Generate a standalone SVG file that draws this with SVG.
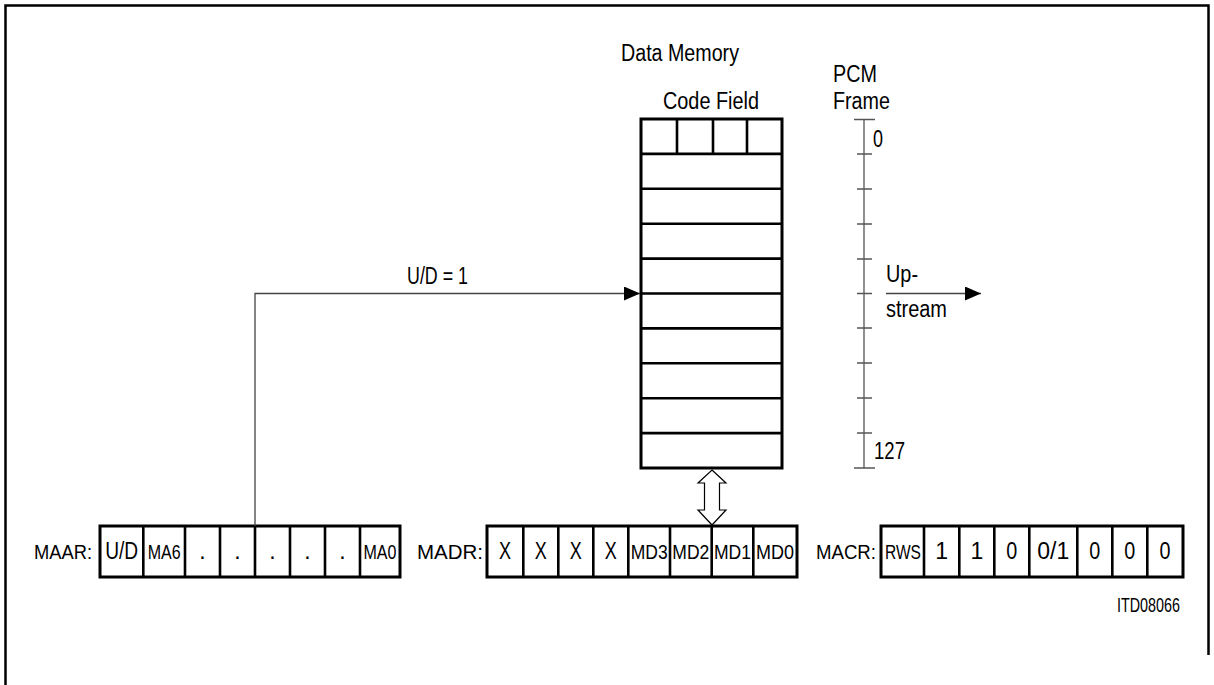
<svg xmlns="http://www.w3.org/2000/svg" width="1214" height="685" viewBox="0 0 1214 685">
  <defs>
    <marker id="ah" viewBox="0 0 16 14" refX="16" refY="7" markerWidth="16" markerHeight="14" markerUnits="userSpaceOnUse" orient="auto">
      <path d="M0 0 L16 7 L0 14 Z" fill="#000"/>
    </marker>
  </defs>
  <style>
    text { font-family: "Liberation Sans", Arial, sans-serif; font-size: 23px; fill: #000; }
    .c { text-anchor: middle; }
    .small { font-size: 20px; }
    .md { font-size: 19.5px; }
    .lbl { font-size: 21px; }
    .box { fill: #fff; stroke: #000; stroke-width: 3; }
    .div { stroke: #000; stroke-width: 2.6; fill: none; }
    .conn { stroke: #444; stroke-width: 1.3; fill: none; }
    .scale { stroke: #555; stroke-width: 1.3; fill: none; }
  </style>
  <rect width="1214" height="685" fill="#fff"/>

  <g id="frame">
    <path d="M5.5 685 V5.5 H1208.5 V655" fill="none" stroke="#000" stroke-width="2.5"/>
  </g>

  <g id="data-memory">
    <text x="621" y="61" textLength="118" lengthAdjust="spacingAndGlyphs">Data Memory</text>
    <text x="663" y="109" textLength="96" lengthAdjust="spacingAndGlyphs">Code Field</text>
    <rect class="box" x="641" y="119" width="141" height="349"/>
    <path class="div" d="M641 153.9 H782 M641 188.8 H782 M641 223.7 H782 M641 258.6 H782 M641 293.5 H782 M641 328.4 H782 M641 363.3 H782 M641 398.2 H782 M641 433.1 H782"/>
    <path class="div" d="M677 119 V153.9 M713 119 V153.9 M747 119 V153.9"/>
  </g>

  <g id="pcm-frame">
    <text x="833" y="82" textLength="44" lengthAdjust="spacingAndGlyphs">PCM</text>
    <text x="833" y="109" textLength="57" lengthAdjust="spacingAndGlyphs">Frame</text>
    <path class="scale" d="M864 119.5 V468 M854 119.5 H875 M854 468 H875 M857 154 H872 M857 189 H872 M857 224 H872 M857 259 H872 M857 293.5 H872 M857 328 H872 M857 363 H872 M857 398 H872 M857 433 H872"/>
    <text x="873" y="147" textLength="10" lengthAdjust="spacingAndGlyphs">0</text>
    <text x="874" y="459" textLength="31" lengthAdjust="spacingAndGlyphs">127</text>
  </g>

  <g id="upstream">
    <text x="886" y="282" textLength="32" lengthAdjust="spacingAndGlyphs">Up-</text>
    <text x="886" y="317" textLength="61" lengthAdjust="spacingAndGlyphs">stream</text>
  </g>

  <g id="maar">
    <text class="lbl" x="34" y="559" textLength="58" lengthAdjust="spacingAndGlyphs">MAAR:</text>
    <rect class="box" x="100" y="526" width="300" height="51"/>
    <path class="div" d="M143.3 526 V577 M185 526 V577 M220 526 V577 M255 526 V577 M290 526 V577 M325 526 V577 M360 526 V577"/>
    <text class="c" x="121.7" y="559" textLength="33" lengthAdjust="spacingAndGlyphs">U/D</text>
    <text class="c md" x="164.2" y="559" textLength="33" lengthAdjust="spacingAndGlyphs">MA6</text>
    <text class="c" x="202.5" y="559">.</text>
    <text class="c" x="237.5" y="559">.</text>
    <text class="c" x="272.5" y="559">.</text>
    <text class="c" x="307.5" y="559">.</text>
    <text class="c" x="342.5" y="559">.</text>
    <text class="c md" x="380" y="559" textLength="33" lengthAdjust="spacingAndGlyphs">MA0</text>
  </g>

  <g id="madr">
    <text class="lbl" x="417" y="559" textLength="66" lengthAdjust="spacingAndGlyphs">MADR:</text>
    <rect class="box" x="487" y="526" width="310" height="51"/>
    <path class="div" d="M523.3 526 V577 M558.3 526 V577 M593.3 526 V577 M628.3 526 V577 M670 526 V577 M711.7 526 V577 M753.3 526 V577"/>
    <text class="c" x="505" y="559" textLength="12" lengthAdjust="spacingAndGlyphs">X</text>
    <text class="c" x="540.8" y="559" textLength="12" lengthAdjust="spacingAndGlyphs">X</text>
    <text class="c" x="575.8" y="559" textLength="12" lengthAdjust="spacingAndGlyphs">X</text>
    <text class="c" x="610.8" y="559" textLength="12" lengthAdjust="spacingAndGlyphs">X</text>
    <text class="c md" x="649.2" y="559" textLength="37" lengthAdjust="spacingAndGlyphs">MD3</text>
    <text class="c md" x="690.8" y="559" textLength="37" lengthAdjust="spacingAndGlyphs">MD2</text>
    <text class="c md" x="732.5" y="559" textLength="37" lengthAdjust="spacingAndGlyphs">MD1</text>
    <text class="c md" x="775" y="559" textLength="38" lengthAdjust="spacingAndGlyphs">MD0</text>
  </g>

  <g id="macr">
    <text class="md" x="816" y="559" textLength="60" lengthAdjust="spacingAndGlyphs">MACR:</text>
    <rect class="box" x="881" y="526" width="302" height="51"/>
    <path class="div" d="M924 526 V577 M959.3 526 V577 M994.3 526 V577 M1029.3 526 V577 M1077.3 526 V577 M1112.3 526 V577 M1147.3 526 V577"/>
    <text class="c md" x="903" y="559" textLength="36" lengthAdjust="spacingAndGlyphs">RWS</text>
    <text class="c" x="941.7" y="559">1</text>
    <text class="c" x="976.8" y="559">1</text>
    <text class="c" x="1011.8" y="559" textLength="11" lengthAdjust="spacingAndGlyphs">0</text>
    <text class="c" x="1053.3" y="559" textLength="32" lengthAdjust="spacingAndGlyphs">0/1</text>
    <text class="c" x="1094.8" y="559" textLength="11" lengthAdjust="spacingAndGlyphs">0</text>
    <text class="c" x="1129.8" y="559" textLength="11" lengthAdjust="spacingAndGlyphs">0</text>
    <text class="c" x="1165" y="559" textLength="11" lengthAdjust="spacingAndGlyphs">0</text>
  </g>

  <g id="figure-id">
    <text class="small" x="1117" y="612" textLength="63" lengthAdjust="spacingAndGlyphs">ITD08066</text>
  </g>

  <g id="connectors">
    <path class="conn" d="M255 526 V293.5 H640" marker-end="url(#ah)"/>
    <text x="407" y="284" textLength="61" lengthAdjust="spacingAndGlyphs">U/D = 1</text>
    <path class="conn" d="M886 293.5 H981" marker-end="url(#ah)"/>
    <path d="M712 470 L726 483 L719.5 483 L719.5 510 L726 510 L712 525 L698 510 L704.5 510 L704.5 483 L698 483 Z" fill="#fff" stroke="#000" stroke-width="1.2" stroke-linejoin="miter"/>
  </g>
</svg>
